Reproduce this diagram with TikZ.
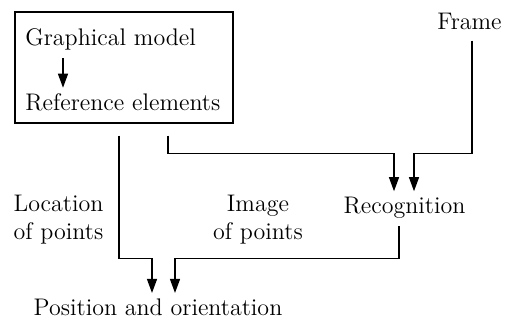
\documentclass[tikz,border=0pt]{standalone}
\usepackage{tikz}
\usetikzlibrary{arrows.meta}
\tikzstyle{mybox} = [draw=black, line width=0.6pt, rectangle,
    minimum width=109pt, minimum height=55.5pt, inner sep=0]
\tikzstyle{mytext} = [inner sep=2.5pt, font=\fontsize{12}{14}\selectfont, align=center]
\tikzstyle{myline} = [draw=black, line width=0.6pt, -{Triangle[length=7pt,width=5pt]}]

\begin{document}
\begin{tikzpicture}[x=0.5pt, y=-0.5pt]
\useasboundingbox (0,0) rectangle (512,322);
\node [mybox] (box) at (124,67.5) {};
\node [mytext, anchor=base west] (gm) at (20,45) {Graphical model};
\node [mytext, anchor=base west] (ref) at (20,110) {Reference elements};
\node [mytext, anchor=base] (frame) at (469.5,29) {Frame};
\node [mytext, anchor=base] (rec) at (404.5,213) {Recognition};
\node [mytext, anchor=base] (pos) at (158,315) {Position and orientation};
\node [mytext] (loc) at (58.5,220) {Location\\of points};
\node [mytext] (img) at (258,220) {Image\\of points};

\draw [myline, shorten <=1.5pt] ([xshift=21.5pt]gm.south west) -- ([xshift=21.5pt]ref.north west);
\draw [myline, shorten <=6pt] ([xshift=-2.5pt]box.south) -- ++(0,135) -| ([xshift=-3pt]pos.north);
\draw [myline, shorten <=6pt] ([xshift=22pt]box.south) -- ++(0,30) -| ([xshift=-5.25pt]rec.north);
\draw [myline, shorten <=3pt] ([xshift=1.25pt]frame.south) -- ++(0,119) -| ([xshift=4.75pt]rec.north);
\draw [myline, shorten <=1.5pt] ([xshift=-2.75pt]rec.south) -- ++(0,35.3) -| ([xshift=8.5pt]pos.north);
\end{tikzpicture}
\end{document}
